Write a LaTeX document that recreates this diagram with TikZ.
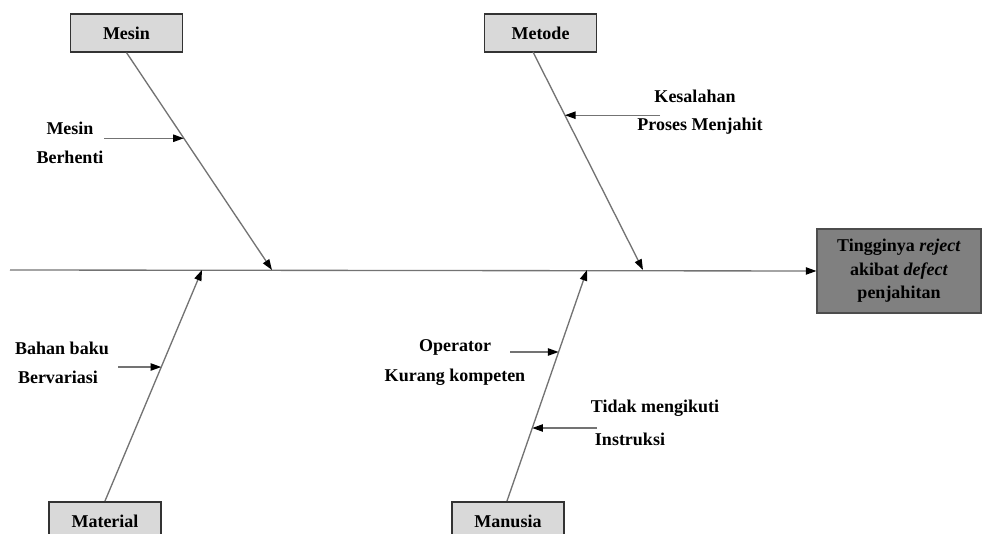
\documentclass[tikz,border=0pt]{standalone}
\usepackage{fontspec}
\setmainfont{Liberation Serif}
\usetikzlibrary{arrows.meta,calc}
\begin{document}
\begin{tikzpicture}[x=0.75pt,y=-0.75pt,
  every node/.style={font=\fontsize{13.5}{17.6}\selectfont\bfseries},
  bone/.style={draw=black!55,line width=1pt},
  arr/.style={bone,-{Triangle[length=8pt,width=5.5pt,color=black]}},
  catbox/.style={draw=black!80,line width=1.4pt,fill=black!15,minimum width=84pt,minimum height=28pt,inner sep=0pt},
  effbox/.style={draw=black!70,line width=0.8pt,fill=black!50,minimum width=123pt,minimum height=63pt,align=center,inner sep=0pt},
  lbl/.style={align=center,inner sep=0pt}]
\useasboundingbox (0,0) rectangle (982,534);
% category boxes
\node[catbox] (mesin) at (126.5,33) {Mesin};
\node[catbox] (metode) at (540.5,33) {Metode};
\node[catbox] (material) at (105,521) {Material};
\node[catbox] (manusia) at (508,521) {Manusia};
\node[effbox] (effect) at (899,271) {Tingginya \textit{reject}\\akibat \textit{defect}\\penjahitan};
% spine
\coordinate (tail) at (10,270);
\draw[arr] (tail) -- (effect.west);
% bone ends on spine
\coordinate (e1) at (272,270);
\coordinate (e2) at (643,270);
\coordinate (e3) at (202,270);
\coordinate (e4) at (587,270);
\coordinate (mtop) at (533,52);
\coordinate (s3) at (105,501);
\coordinate (s4) at (507,501);
\draw[arr] (mesin.south) -- (e1);
\draw[arr] (mtop) -- (e2);
\draw[arr] (s3) -- (e3);
\draw[arr] (s4) -- (e4);
% sub-cause points on bones
\coordinate (p1) at ($(mesin.south)!0.394!(e1)$);
\coordinate (p2) at ($(mtop)!0.29!(e2)$);
\coordinate (p3) at ($(s3)!0.58!(e3)$);
\coordinate (p4) at ($(s4)!0.645!(e4)$);
\coordinate (p5) at ($(s4)!0.316!(e4)$);
% labels
\node[lbl] (l1a) at (70,128) {Mesin};
\node[lbl] (l1b) at (70,157) {Berhenti};
\node[lbl] (l2a) at (695,96) {Kesalahan};
\node[lbl] (l2b) at (700,126) {Proses Menjahit};
\node[lbl] (l3a) at (62,348) {Bahan baku};
\node[lbl] (l3b) at (58,377) {Bervariasi};
\node[lbl] (l4a) at (455,347) {Operator};
\node[lbl] (l4b) at (455,377) {Kurang kompeten};
\node[lbl] (l5a) at (655,408) {Tidak mengikuti};
\node[lbl] (l5b) at (630,439) {Instruksi};
% sub-cause arrows
\coordinate (a1) at (104,0);
\coordinate (a2) at (660,0);
\coordinate (a3) at (118,0);
\coordinate (a4) at (510,0);
\coordinate (a5) at (597,0);
\draw[arr] (a1 |- p1) -- (p1);
\draw[arr] (a2 |- p2) -- (p2);
\draw[arr] (a3 |- p3) -- (p3);
\draw[arr] (a4 |- p4) -- (p4);
\draw[arr] (a5 |- p5) -- (p5);
\end{tikzpicture}
\end{document}
